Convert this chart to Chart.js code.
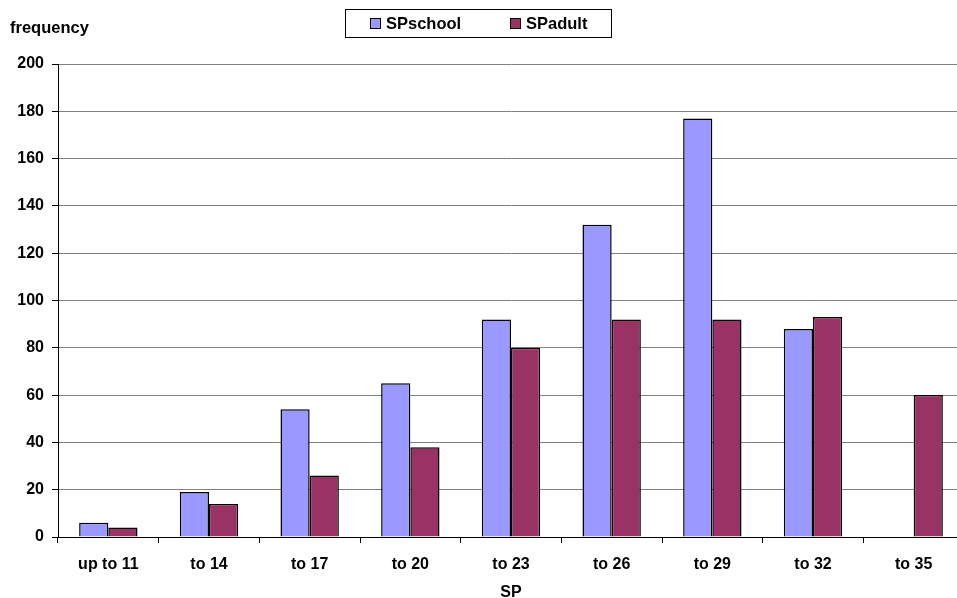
<!DOCTYPE html>
<html>
<head>
<meta charset="utf-8">
<script src="https://cdn.jsdelivr.net/npm/chart.js@4/dist/chart.umd.min.js"></script>
<style>
  html, body { margin: 0; padding: 0; background: #fff; overflow: hidden; }
  #wrap { width: 967px; height: 598px; }
</style>
</head>
<body>
<div id="wrap"><canvas id="c" width="967" height="598"></canvas></div>
<script>
// SP score bands and frequencies for the two groups
const categories = ['up to 11', 'to 14', 'to 17', 'to 20', 'to 23', 'to 26', 'to 29', 'to 32', 'to 35'];
const spSchool = [6, 19, 54, 65, 92, 132, 177, 88, 0];
const spAdult  = [4, 14, 26, 38, 80, 92, 92, 93, 60];
const seriesNames = ['SPschool', 'SPadult'];
const yTicks = [0, 20, 40, 60, 80, 100, 120, 140, 160, 180, 200];

const FONT = 'Liberation Sans, Arial, sans-serif';
const colors = ['#9999FF', '#993366'];

// Boxed legend and the y-axis caption drawn on top of the chart
const decorations = {
  id: 'decorations',
  afterDraw(chart) {
    const ctx = chart.ctx;
    ctx.save();
    ctx.font = 'bold 16.5px ' + FONT;
    ctx.fillStyle = '#000';
    ctx.textBaseline = 'alphabetic';
    ctx.textAlign = 'left';
    ctx.fillText('frequency', 10, 33);

    // legend frame
    ctx.strokeStyle = '#000';
    ctx.lineWidth = 1;
    ctx.fillStyle = '#fff';
    ctx.fillRect(345.5, 9.5, 266, 28);
    ctx.strokeRect(345.5, 9.5, 266, 28);

    const items = [{x: 370, tx: 386}, {x: 510, tx: 526}];
    chart.data.datasets.forEach((ds, i) => {
      const it = items[i];
      ctx.fillStyle = ds.backgroundColor;
      ctx.fillRect(it.x + 0.5, 18.5, 10, 10);
      ctx.strokeStyle = '#000';
      ctx.strokeRect(it.x + 0.5, 18.5, 10, 10);
      ctx.fillStyle = '#000';
      ctx.font = 'bold 16.5px ' + FONT;
      ctx.fillText(ds.label, it.tx, 29);
    });
    ctx.restore();
  }
};

new Chart(document.getElementById('c'), {
  type: 'bar',
  data: {
    labels: categories,
    datasets: [
      { label: seriesNames[0], data: spSchool, backgroundColor: colors[0], borderColor: '#000', borderWidth: 1.5 },
      { label: seriesNames[1], data: spAdult,  backgroundColor: colors[1], borderColor: '#000', borderWidth: 1.5 }
    ]
  },
  options: {
    responsive: false,
    animation: false,
    events: [],
    layout: { padding: { left: 0, right: 3, top: 64, bottom: 0 } },
    datasets: { bar: { categoryPercentage: 0.58, barPercentage: 1.0 } },
    plugins: { legend: { display: false }, tooltip: { enabled: false } },
    scales: {
      x: {
        grid: { offset: true, drawOnChartArea: false, color: '#000', tickLength: 6, tickWidth: 1 },
        border: { color: '#000', width: 1 },
        ticks: { font: { family: FONT, size: 16, weight: 'bold' }, color: '#000', padding: 12, maxRotation: 0 },
        title: { display: true, text: 'SP', font: { family: FONT, size: 16, weight: 'bold' }, color: '#000', padding: { top: 0, bottom: -4 } },
        afterFit(scale) { scale.height = 61; }
      },
      y: {
        min: 0, max: 200,
        afterBuildTicks(scale) { scale.ticks = yTicks.map(v => ({ value: v })); },
        grid: { color: '#808080', tickColor: '#000', tickLength: 6 },
        border: { color: '#000', width: 1 },
        ticks: { font: { family: FONT, size: 16, weight: 'bold' }, color: '#000', padding: 8 },
        afterFit(scale) { scale.width = 58; }
      }
    }
  },
  plugins: [decorations]
});
</script>
</body>
</html>
